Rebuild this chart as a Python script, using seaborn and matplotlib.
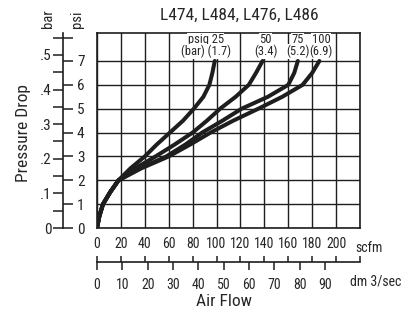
import matplotlib
matplotlib.use("Agg")
import matplotlib.pyplot as plt
from matplotlib import font_manager as fm
import seaborn as sns
import pandas as pd

# ---------------- data ----------------
psi = [0, 0.5, 1, 1.5, 2, 2.5, 3, 3.5, 4, 4.5, 5, 5.5, 6, 6.5, 7]
scfm_25 = [0, 2, 5, 11, 18, 28, 40, 50, 61, 72, 81, 89, 94, 96.5, 98.5]
scfm_50 = [0, 2, 5, 11, 18, 32, 49, 65, 80, 92, 103, 116, 127, 133, 138.5]
scfm_75 = [0, 2, 5, 11, 18, 36, 58, 74, 88, 105, 121, 143, 160, 165, 168]
scfm_100 = [0, 2, 5, 11, 18, 37, 60, 78, 95, 114, 135, 155, 172, 180, 186]

series_names = ["25", "50", "75", "100"]
series_top = ["psig 25", "50", "75", "100"]
series_bottom = ["(bar) (1.7)", "(3.4)", "(5.2)", "(6.9)"]
label_x = [91, 141, 168, 187.5]

scfm_ticks = [0, 20, 40, 60, 80, 100, 120, 140, 160, 180, 200, 220]
scfm_ticklabels = ["0", "20", "40", "60", "80", "100", "120", "140", "160", "180", "200", ""]
dm_ticks = [0, 10, 20, 30, 40, 50, 60, 70, 80, 90]
dm_ticklabels = ["0", "10", "20", "30", "40", "50", "60", "70", "80", "90"]
psi_ticks = [0, 1, 2, 3, 4, 5, 6, 7]
psi_ticklabels = ["0", "1", "2", "3", "4", "5", "6", "7"]
bar_ticks = [0, 0.05, 0.1, 0.15, 0.2, 0.25, 0.3, 0.35, 0.4, 0.45, 0.5, 0.55]
bar_ticklabels = ["0", "", ".1", "", ".2", "", ".3", "", ".4", "", ".5", ""]

title = "L474, L484, L476, L486"

PSI_PER_BAR = 14.5038
DM_PER_SCFM = 0.471947

# ---------------- style ----------------
sns.set_style("white")

# pick a condensed sans face if one is installed
names = {f.name for f in fm.fontManager.ttflist}
family, stretch = None, "normal"
for cand in ["Liberation Sans Narrow", "Roboto Condensed", "Noto Sans Condensed",
             "Open Sans Condensed", "DejaVu Sans Condensed", "Arial Narrow"]:
    if cand in names:
        family = cand
        break
if family is None:
    for f in fm.fontManager.ttflist:
        if f.name in ("DejaVu Sans", "Noto Sans", "Open Sans", "Roboto", "Liberation Sans") \
                and str(f.stretch) in ("condensed", "semi-condensed", "extra-condensed"):
            family, stretch = f.name, str(f.stretch)
            break
if family is None:
    family = "Liberation Sans"
plt.rcParams["font.family"] = [family, "DejaVu Sans"]
plt.rcParams["font.stretch"] = stretch

W, H = 412, 312
fig = plt.figure(figsize=(W / 100, H / 100), dpi=100)


def rect(x0, y0, x1, y1):
    return [x0 / W, 1 - y1 / H, (x1 - x0) / W, (y1 - y0) / H]


XMAX = 220
YTOP = (228 - 33) / 23.86
INK = "#1e1e1e"

# main grid
ax = fig.add_axes(rect(97, 33, 360, 228))
ax.set_xlim(0, XMAX)
ax.set_ylim(0, YTOP)
ax.set_xticks(scfm_ticks)
ax.set_yticks(psi_ticks)
ax.grid(True, color=INK, lw=1.0)
ax.tick_params(length=0, labelbottom=False, labelleft=False)
for s in ax.spines.values():
    s.set_color(INK)
    s.set_linewidth(1.2)

rows = []
for name, xs in zip(series_names, [scfm_25, scfm_50, scfm_75, scfm_100]):
    for xv, yv in zip(xs, psi):
        rows.append({"psig": name, "scfm": xv, "psi": yv})
df = pd.DataFrame(rows)
sns.lineplot(data=df, x="scfm", y="psi", hue="psig", units="psig",
             palette=[INK] * 4, estimator=None, sort=False,
             legend=False, lw=2.9, solid_capstyle="round",
             solid_joinstyle="round", ax=ax)
ax.set_xlabel("")
ax.set_ylabel("")

for lx, t1, t2 in zip(label_x, series_top, series_bottom):
    ax.text(lx, 7.9, t1, ha="center", va="center", fontsize=9,
            bbox=dict(fc="white", ec="none", pad=0.3), zorder=5)
    ax.text(lx, 7.4, t2, ha="center", va="center", fontsize=9,
            bbox=dict(fc="white", ec="none", pad=0.3), zorder=5)

fig.text(239 / W, 1 - 15 / H, title, ha="center", va="center", fontsize=12.5)

# left scale axis (bar on the left, psi on the right)
ay = fig.add_axes([63 / W, 1 - 228 / H, 0.00001, (228 - 33) / H])
ay.set_facecolor("none")
ay2 = ay.twinx()
ay.set_ylim(0, YTOP)
ay2.set_ylim(0, YTOP)
ay.set_xticks([])
for k in ["top", "bottom", "right"]:
    ay.spines[k].set_visible(False)
ay.spines["left"].set_linewidth(1.2)
ay.spines["left"].set_color(INK)
ay.set_yticks([b * PSI_PER_BAR for b in bar_ticks])
ay.set_yticklabels(bar_ticklabels)
ay.tick_params(axis="y", direction="out", length=7, width=1.1, pad=1,
               labelsize=11, color=INK)

for k in ["top", "bottom", "left", "right"]:
    ay2.spines[k].set_visible(False)
ay2.set_yticks(psi_ticks + [bar_ticks[-1] * PSI_PER_BAR])
ay2.set_yticklabels(psi_ticklabels + [""])
ay2.tick_params(axis="y", direction="out", length=7, width=1.1, pad=3,
                labelsize=11, color=INK)

fig.text(48 / W, 1 - 19 / H, "bar", rotation=90, ha="center", va="center", fontsize=10.5)
fig.text(77 / W, 1 - 19 / H, "psi", rotation=90, ha="center", va="center", fontsize=10.5)
fig.text(24 / W, 1 - 133 / H, "Pressure Drop", rotation=90, ha="center",
         va="center", fontsize=12.5)

# bottom scale axis (scfm above, dm3/sec below)
axb = fig.add_axes([97 / W, 1 - 262 / H, 263 / W, 0.00001])
axb.set_facecolor("none")
axd = axb.twiny()
axb.set_xlim(0, XMAX)
axd.set_xlim(0, XMAX * DM_PER_SCFM)
axb.set_yticks([])
for k in ["left", "right", "top"]:
    axb.spines[k].set_visible(False)
axb.spines["bottom"].set_linewidth(1.2)
axb.spines["bottom"].set_color(INK)
axb.set_xticks(scfm_ticks)
axb.set_xticklabels(scfm_ticklabels)
axb.xaxis.set_ticks_position("top")
axb.xaxis.set_label_position("top")
axb.tick_params(axis="x", which="both", top=True, bottom=False,
                labeltop=True, labelbottom=False,
                direction="out", length=4, width=1.1, pad=4,
                labelsize=10, color=INK)

for k in ["left", "right", "top", "bottom"]:
    axd.spines[k].set_visible(False)
axd.set_xticks(dm_ticks)
axd.set_xticklabels(dm_ticklabels)
axd.xaxis.set_ticks_position("bottom")
axd.tick_params(axis="x", which="both", top=False, bottom=True,
                labeltop=False, labelbottom=True,
                direction="out", length=5.5, width=1.1, pad=6,
                labelsize=10, color=INK)

fig.text(369 / W, 1 - 248 / H, "scfm", ha="center", va="center", fontsize=10)
fig.text(376 / W, 1 - 282 / H, "dm 3/sec", ha="center", va="center", fontsize=10)
fig.text(224 / W, 1 - 302 / H, "Air Flow", ha="center", va="center", fontsize=12.5)

fig.savefig("out.png", dpi=100)
